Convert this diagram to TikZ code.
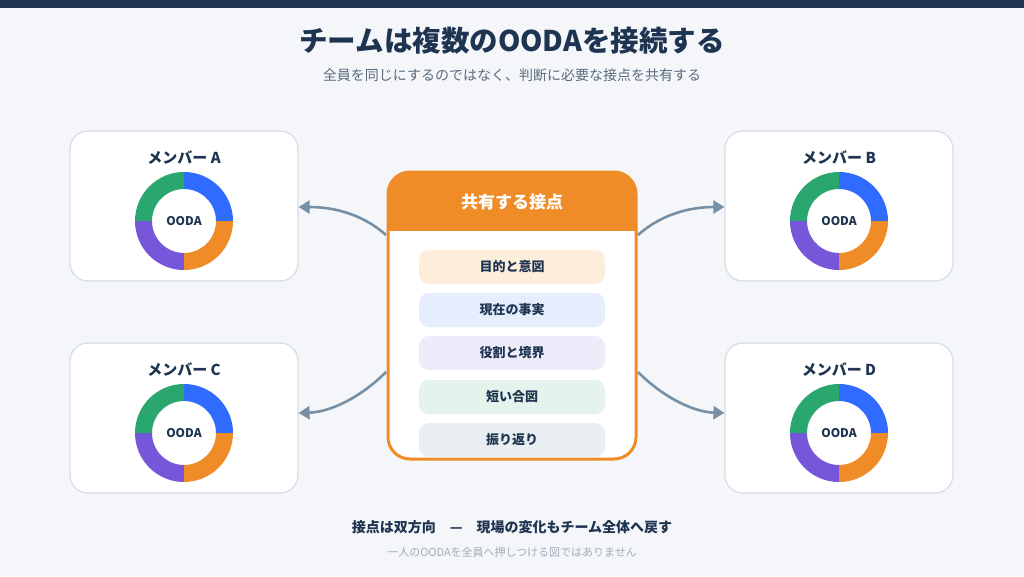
\documentclass[tikz,border=0pt]{standalone}
\usepackage{fontspec}
\setmainfont{Noto Sans CJK JP}
\usetikzlibrary{arrows.meta}
\definecolor{bg}{HTML}{F4F6F9}
\definecolor{navy}{HTML}{1E3450}
\definecolor{sub}{HTML}{5A6B7D}
\definecolor{note}{HTML}{A0ADBA}
\definecolor{bord}{HTML}{D5DDE6}
\definecolor{cblue}{HTML}{2F6BFF}
\definecolor{corange}{HTML}{F08C28}
\definecolor{cpurple}{HTML}{7657D9}
\definecolor{cgreen}{HTML}{2AA76E}
\definecolor{arr}{HTML}{7890A5}
\definecolor{i1}{HTML}{FDEEDB}
\definecolor{i2}{HTML}{E6EEFD}
\definecolor{i3}{HTML}{EEEBFB}
\definecolor{i4}{HTML}{E4F4EC}
\definecolor{i5}{HTML}{E9EEF3}
\newcommand\seg[3]{\fill[#3] (#1:49) arc[start angle=#1,end angle=#2,radius=49] -- (#2:32) arc[start angle=#2,end angle=#1,radius=32] -- cycle;}
\newcommand\donut[3]{%
  \begin{scope}[shift={(#1,#2)},x=1pt,y=1pt]
  \seg{0}{90}{cblue}\seg{90}{180}{cgreen}\seg{180}{270}{cpurple}\seg{270}{360}{corange}
  \end{scope}
  \node[font=\bfseries\fontsize{12}{14}\selectfont,text=navy] (#3) at (#1,#2) {OODA};}
\begin{document}
\begin{tikzpicture}[x=1pt,y=-1pt,
  member/.style={draw=bord,line width=1.2pt,fill=white,rounded corners=18pt,minimum width=228pt,minimum height=150pt},
  mtitle/.style={font=\bfseries\fontsize{15}{18}\selectfont,text=navy},
  item/.style={fill=#1,rounded corners=10pt,minimum width=186pt,minimum height=34pt,font=\bfseries\fontsize{13}{15}\selectfont,text=navy},
  conn/.style={draw=arr,line width=2.6pt,-{Triangle[length=11pt,width=13pt]}}]
\useasboundingbox (0,0) rectangle (1024,576);
\fill[bg] (0,0) rectangle (1024,576);
\fill[navy] (0,0) rectangle (1024,8);
\node[font=\bfseries\fontsize{28.5}{32}\selectfont,text=navy] (title) at (512,41) {チームは複数のOODAを接続する};
\node[font=\fontsize{14}{16}\selectfont,text=sub] (subt) at (512,75) {全員を同じにするのではなく、判断に必要な接点を共有する};
\node[member] (mA) at (184,206) {};
\node[member] (mB) at (839,206) {};
\node[member] (mC) at (184,418) {};
\node[member] (mD) at (839,418) {};
\node[mtitle] (tA) at (184,158) {メンバー A};
\node[mtitle] (tB) at (839,158) {メンバー B};
\node[mtitle] (tC) at (184,370) {メンバー C};
\node[mtitle] (tD) at (839,370) {メンバー D};
\donut{184}{221}{oA}
\donut{839}{221}{oB}
\donut{184}{433}{oC}
\donut{839}{433}{oD}
% center box
\fill[white,rounded corners=22pt] (388,172) rectangle (636,459);
\fill[corange,rounded corners=22pt] (388,172) rectangle (636,250);
\fill[white] (388,231) rectangle (636,260);
\draw[corange,line width=3pt,rounded corners=22pt] (388,172) rectangle (636,459);
\node (hub) at (512,315) [minimum width=248pt,minimum height=287pt] {};
\node[font=\bfseries\fontsize{17}{20}\selectfont,text=white] (htitle) at (512,202) {共有する接点};
\node[item=i1] (it1) at (512,267) {目的と意図};
\node[item=i2] (it2) at (512,310) {現在の事実};
\node[item=i3] (it3) at (512,353) {役割と境界};
\node[item=i4] (it4) at (512,397) {短い合図};
\node[item=i5] (it5) at (512,440) {振り返り};
\coordinate (pA) at (386,235);
\coordinate (pB) at (638,235);
\coordinate (pC) at (386,372);
\coordinate (pD) at (638,372);
\draw[conn] (pA) .. controls (360,212) and (330,207) .. (mA.east |- 0,207);
\draw[conn] (pB) .. controls (664,212) and (694,207) .. (mB.west |- 0,207);
\draw[conn] (pC) .. controls (360,398) and (330,412) .. (mC.east |- 0,413);
\draw[conn] (pD) .. controls (664,398) and (694,412) .. (mD.west |- 0,413);
\node[font=\bfseries\fontsize{14}{16}\selectfont,text=navy] (foot) at (512,527) {接点は双方向\quad —\quad 現場の変化もチーム全体へ戻す};
\node[font=\fontsize{11}{13}\selectfont,text=note] (fnote) at (512,552) {一人のOODAを全員へ押しつける図ではありません};
\end{tikzpicture}
\end{document}
